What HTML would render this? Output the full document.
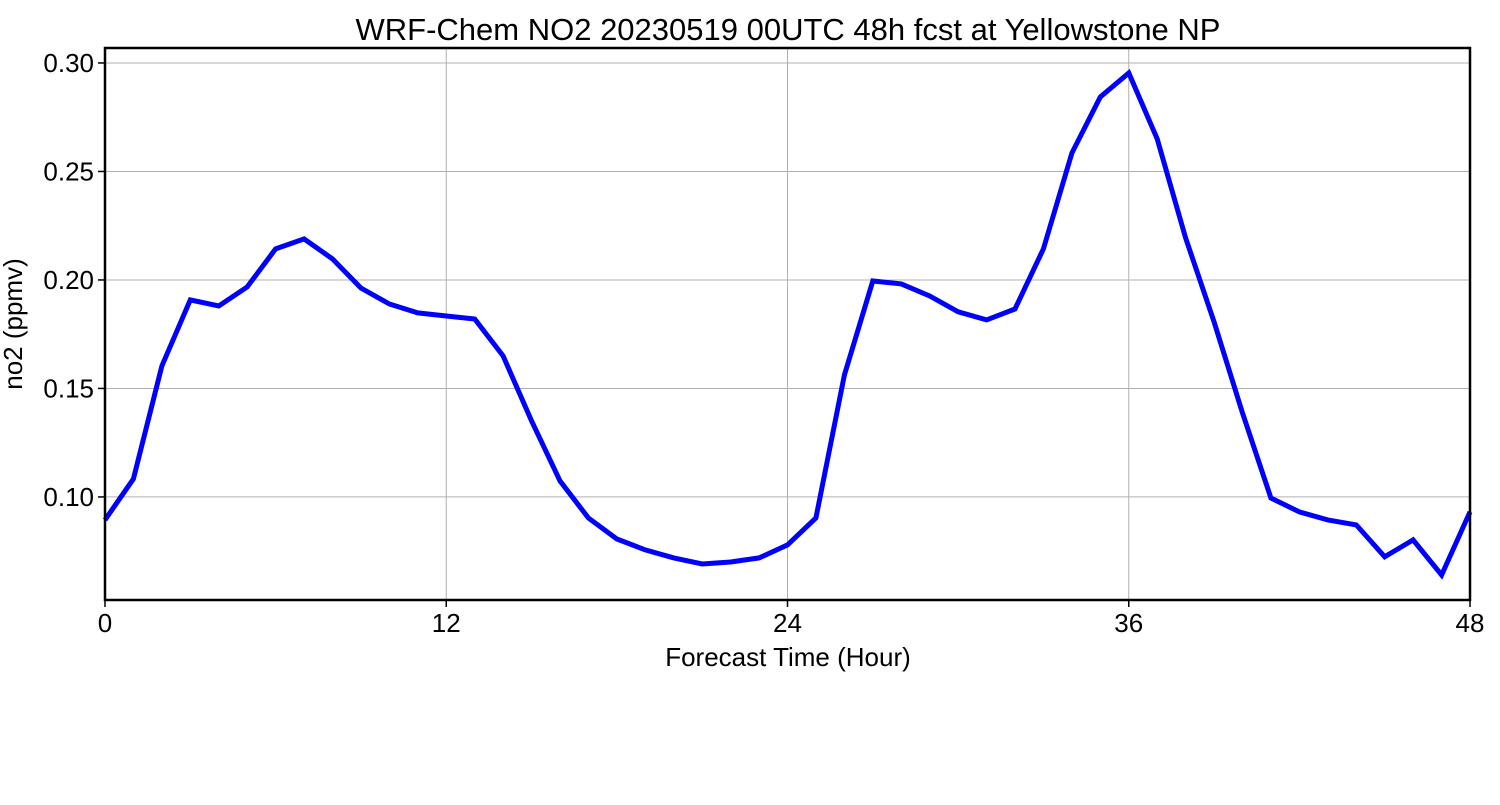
<!DOCTYPE html>
<html><head><meta charset="utf-8"><style>
body{margin:0;background:#fff;}
svg text{font-family:"Liberation Sans","DejaVu Sans",sans-serif;fill:#000;}
</style></head><body>
<svg id="chart" width="1500" height="800" xmlns="http://www.w3.org/2000/svg">
<rect x="0" y="0" width="1500" height="800" fill="#fff"/>
<text x="788" y="40" font-size="31" text-anchor="middle">WRF-Chem NO2  20230519 00UTC 48h fcst at Yellowstone NP</text>
<g id="grid"></g>
<g id="yticks"></g>
<g id="xticks"></g>
<g id="series"></g>
<rect x="105" y="48" width="1365" height="552" fill="none" stroke="#000" stroke-width="2.5"/>
<text x="788" y="666" font-size="26" text-anchor="middle">Forecast Time (Hour)</text>
<text transform="translate(22,324) rotate(-90)" font-size="26" text-anchor="middle">no2  (ppmv)</text>
</svg>
<script>
const hours = [0,1,2,3,4,5,6,7,8,9,10,11,12,13,14,15,16,17,18,19,20,21,22,23,24,25,26,27,28,29,30,31,32,33,34,35,36,37,38,39,40,41,42,43,44,45,46,47,48];
const no2 = [0.0894,0.1083,0.1604,0.1908,0.188,0.1968,0.2143,0.2189,0.2097,0.1963,0.1889,0.1848,0.1834,0.182,0.165,0.135,0.1074,0.0903,0.0806,0.0756,0.0719,0.0691,0.07,0.0719,0.0779,0.0903,0.1562,0.1995,0.1982,0.1926,0.1853,0.1816,0.1866,0.2143,0.2585,0.2843,0.2954,0.265,0.2194,0.1806,0.1387,0.0995,0.0931,0.0894,0.0871,0.0724,0.0802,0.064,0.0931];
const xTickValues = [0,12,24,36,48];
const yTickValues = [0.10,0.15,0.20,0.25,0.30];
const yTickLabels = ["0.10","0.15","0.20","0.25","0.30"];
const NS="http://www.w3.org/2000/svg";
const X0=105,X1=1470,XMIN=0,XMAX=48;
const YMIN=0.0525,YMAX=0.3069,PY0=600,PY1=48;
function xs(v){return X0+(v-XMIN)/(XMAX-XMIN)*(X1-X0);}
function ys(v){return PY0-(v-YMIN)/(YMAX-YMIN)*(PY0-PY1);}
function mk(tag,attrs,parent){const e=document.createElementNS(NS,tag);for(const k in attrs)e.setAttribute(k,attrs[k]);parent.appendChild(e);return e;}
const grid=document.getElementById('grid'),yt=document.getElementById('yticks'),xt=document.getElementById('xticks'),ser=document.getElementById('series');
yTickValues.forEach((v,i)=>{
  const y=ys(v);
  const g=mk('line',{x1:X0,x2:X1,y1:y,y2:y,stroke:'#b0b0b0','stroke-width':1},grid);
  
  
  const t=mk('line',{x1:X0-7,x2:X0,y1:y,y2:y,stroke:'#000','stroke-width':1.5},yt);
  
  
  const l=mk('text',{x:X0-11,y:y+9,'font-size':26,'text-anchor':'end'},yt);
  l.textContent=yTickLabels[i];
  
  
});
xTickValues.forEach(v=>{
  const x=xs(v);
  const g=mk('line',{x1:x,x2:x,y1:PY1,y2:PY0,stroke:'#b0b0b0','stroke-width':1},grid);
  
  
  const t=mk('line',{x1:x,x2:x,y1:PY0,y2:PY0+7,stroke:'#000','stroke-width':1.5},xt);
  
  
  const l=mk('text',{x:x,y:PY0+32,'font-size':26,'text-anchor':'middle'},xt);
  l.textContent=String(v);
  
  
});
const pts=hours.map((h,i)=>xs(h).toFixed(1)+','+ys(no2[i]).toFixed(1)).join(' ');
const line=mk('polyline',{points:pts,fill:'none',stroke:'#0000ff','stroke-width':5,'stroke-linejoin':'miter'},ser);


</script>
</body></html>
